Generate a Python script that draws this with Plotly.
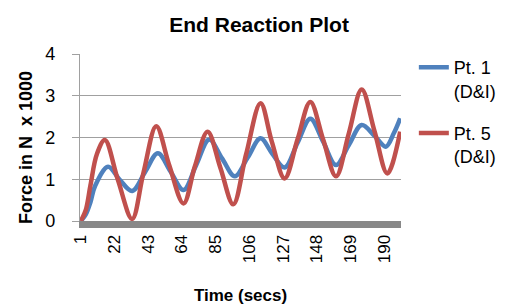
import plotly.graph_objects as go

# Sample readings (category index, value in N x 1000)
red_x = [1, 4, 7, 11, 16, 24, 33, 40, 48, 56, 65, 72, 80, 88, 96, 104, 113, 120, 128, 136, 144, 152, 160, 168, 176, 184, 192, 200]
red_y = [0.0, 0.25, 0.85, 1.6, 1.94, 1.0, 0.05, 1.15, 2.27, 1.35, 0.42, 1.3, 2.14, 1.27, 0.40, 1.6, 2.82, 1.9, 1.02, 1.95, 2.85, 1.95, 1.07, 2.1, 3.15, 2.15, 1.14, 2.14]

blue_x = [1, 4, 7, 10, 18, 25, 33, 41, 49, 57, 65, 73, 81, 89, 97, 105, 113, 120, 128, 136, 144, 152, 160, 168, 176, 184, 191, 196, 200]
blue_y = [0.0, 0.15, 0.45, 0.85, 1.30, 1.0, 0.72, 1.17, 1.62, 1.18, 0.74, 1.35, 1.95, 1.5, 1.07, 1.52, 1.98, 1.63, 1.28, 1.87, 2.45, 1.9, 1.34, 1.82, 2.30, 2.04, 1.78, 2.1, 2.46]

tick_vals = [1, 22, 43, 64, 85, 106, 127, 148, 169, 190]
tick_text = [str(v) for v in tick_vals]

FONT = "Liberation Sans"

fig = go.Figure()
fig.add_trace(go.Scatter(x=blue_x, y=blue_y, mode="lines", name="Pt. 1<br>(D&I)", legendgroup="a",
                         line=dict(color="#4F81BD", width=4.5, shape="spline", smoothing=1.0)))
fig.add_trace(go.Scatter(x=red_x, y=red_y, mode="lines", name="Pt. 5<br>(D&I)", legendgroup="b",
                         line=dict(color="#C0504D", width=4.5, shape="spline", smoothing=1.0)))

fig.update_layout(
    width=512, height=307,
    margin=dict(l=80, r=111, t=54, b=86, autoexpand=False),
    paper_bgcolor="white", plot_bgcolor="white",
    font=dict(family=FONT, size=17, color="black"),
    title=dict(text="<b>End Reaction Plot</b>", x=0.506, xanchor="center",
               y=1 - 25 / 307, yanchor="middle", font=dict(size=21)),
    showlegend=True,
    legend=dict(x=1.04, xanchor="left", y=1.03, yanchor="top", font=dict(size=18),
                bgcolor="rgba(0,0,0,0)", tracegroupgap=16, valign="top"),
)
fig.update_xaxes(range=[0.5, 200.5], tickmode="array", tickvals=tick_vals, ticktext=tick_text,
                 tickangle=-90, showgrid=False, zeroline=False, automargin=False,
                 showline=True, linecolor="#888888", linewidth=7,
                 ticks="", tickfont=dict(size=17),
                 title=dict(text="<b>Time (secs)</b>", font=dict(size=17), standoff=29))
fig.update_yaxes(range=[0, 4], tickvals=[0, 1, 2, 3, 4], showgrid=True, gridcolor="#A0A0A0",
                 gridwidth=1.3, zeroline=False, showline=True, linecolor="#A0A0A0", linewidth=1.3,
                 ticks="outside", ticklen=7, tickcolor="#A0A0A0", tickwidth=1.3, automargin=False,
                 tickfont=dict(size=18), ticklabelstandoff=13,
                 title=dict(text="<b>Force in N  x 1000</b>&nbsp;&nbsp;&nbsp;&nbsp;",
                            font=dict(size=18), standoff=7))

fig.write_html("out.html", config={"displayModeBar": False},
               post_script="document.body.style.margin='0';")
